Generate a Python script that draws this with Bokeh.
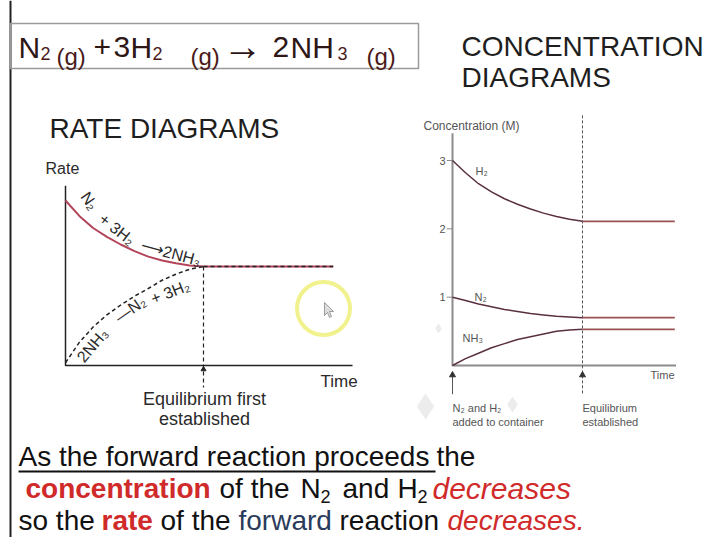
from bokeh.plotting import figure
from bokeh.models import Range1d
from bokeh.core.properties import value
from bokeh.embed import file_html
from bokeh.resources import INLINE

# ---------------- data ----------------
# Rate diagram (arbitrary time units, equilibrium first established at t = 5)
rate_time = [0, 0.5, 1, 1.5, 2, 2.5, 3, 3.5, 4, 4.5, 5]
forward_rate = [3.00, 2.72, 2.50, 2.34, 2.20, 2.08, 1.98, 1.91, 1.86, 1.82, 1.80]
reverse_rate = [0.05, 0.42, 0.70, 0.92, 1.10, 1.26, 1.40, 1.55, 1.66, 1.75, 1.80]
rate_eq_time = 5
rate_end_time = 9.7
rate_axis_time = 10.4
rate_axis_top = 3.27

# Concentration diagram (M), equilibrium established at t = 5
conc_time = [0, 0.5, 1, 1.5, 2, 2.5, 3, 3.5, 4, 4.5, 5]
h2_conc = [3.00, 2.82, 2.66, 2.54, 2.44, 2.36, 2.29, 2.23, 2.18, 2.14, 2.11]
n2_conc = [1.00, 0.95, 0.90, 0.86, 0.82, 0.79, 0.76, 0.74, 0.72, 0.71, 0.70]
nh3_conc = [0.00, 0.10, 0.18, 0.26, 0.32, 0.38, 0.42, 0.46, 0.50, 0.52, 0.53]
conc_eq_time = 5
conc_end_time = 8.55
conc_axis_time = 8.6
conc_axis_top = 3.4
conc_ticks = [1, 2, 3]
conc_tick_labels = ["1", "2", "3"]

FONT = value("Liberation Sans")

# ---------------- canvas (page coordinates, y downwards) ----------------
W, H = 709, 537
p = figure(width=W, height=H, x_range=Range1d(0, W), y_range=Range1d(H, 0),
           output_backend="svg", toolbar_location=None, min_border=0,
           x_axis_location=None, y_axis_location=None)
p.grid.visible = False
p.outline_line_color = None
p.background_fill_color = "white"
p.border_fill_color = "white"


def span(v0, p0, v1, p1, lo, hi):
    k = (v1 - v0) / (p1 - p0)
    return Range1d(start=v0 + (lo - p0) * k, end=v0 + (hi - p0) * k)


p.extra_x_ranges = {"rt": span(0, 65, 5, 203, 0, W),
                    "ct": span(0, 452, 5, 582, 0, W)}
p.extra_y_ranges = {"rr": span(0, 365, 3, 200, H, 0),
                    "cc": span(0, 365, 3, 160, H, 0)}
R = dict(x_range_name="rt", y_range_name="rr")
C = dict(x_range_name="ct", y_range_name="cc")


def label(x, y, s, size, color="#222222", style="normal", align="left",
          angle=0.0, **kw):
    p.text(x=[x], y=[y], text=[s], text_font=FONT, text_font_size=f"{size}px",
           text_color=color, text_font_style=style, text_align=align,
           text_baseline="middle", angle=angle, **kw)


# slide edge
p.segment(x0=[10], y0=[0], x1=[10], y1=[H], line_color="#222222", line_width=2)

# ---------------- title equation ----------------
p.quad(left=[10], right=[418], top=[23], bottom=[68], fill_color=None,
       line_color="#9a9a9a", line_width=1.5)
EQ = "#2e1616"
SUB = "#4a1a1a"
for x, s in [(18, "N"), (93, "+"), (113, "3"), (130, "H"), (272, "2"), (290, "NH")]:
    label(x, 46.5, s, 30, EQ)
label(222, 45.5, "\u2192", 40, EQ)
for x, s in [(40, "2"), (152, "2"), (337, "3")]:
    label(x, 52.5, s, 18, SUB)
for x, s in [(56, "(g)"), (190, "(g)"), (366, "(g)")]:
    label(x, 56, s, 24, SUB)

label(461, 46, "CONCENTRATION", 28, "#1e1e1e")
label(461, 77, "DIAGRAMS", 28, "#1e1e1e")
label(49, 128, "RATE DIAGRAMS", 28, "#1e1e1e")

# ---------------- rate diagram ----------------
p.line([0, 0, rate_axis_time], [rate_axis_top, 0, 0], line_color="#222222", line_width=1.5, **R)
p.line(rate_time, forward_rate, line_color="#b2455a", line_width=2, **R)
p.line([rate_eq_time, rate_end_time], [forward_rate[-1], forward_rate[-1]],
       line_color="#b2455a", line_width=2, **R)
p.line(rate_time, reverse_rate, line_color="#222222", line_width=1.5, line_dash="4 3", **R)
p.line([rate_eq_time, rate_end_time], [reverse_rate[-1], reverse_rate[-1]],
       line_color="#222222", line_width=1.3, line_dash="4 3", **R)
p.line([rate_eq_time, rate_eq_time], [reverse_rate[-1], -0.4], line_color="#222222",
       line_width=1.2, line_dash="4 3", **R)
p.scatter([rate_eq_time], [-0.07], marker="triangle", size=5, color="#222222", **R)

label(45, 167.5, "Rate", 16, "#2a2a2a")
label(320, 381, "Time", 17, "#2a2a2a")
label(204, 398, "Equilibrium first", 18, "#2a2a2a", align="center")
label(204, 418.5, "established", 18, "#2a2a2a", align="center")

LBL = "#2a2a2a"
label(84, 193, "N\u2082", 16, LBL, angle=-0.96)
label(100.5, 216.5, "+ 3H\u2082", 16, LBL, angle=-0.66)
label(140.5, 244.5, "\u27f62NH\u2083", 16, LBL, angle=-0.26)
label(79.5, 359.5, "2NH\u2083", 16, LBL, angle=0.87)
label(116, 318.5, "\u2014N\u2082", 16, LBL, angle=0.61)
label(151, 299, "+ 3H\u2082", 16, LBL, angle=0.38)

# screen-recording cursor highlight
p.scatter([323], [308], marker="circle", size=53, fill_color=None,
          line_color="#eef07a", line_width=4, line_alpha=0.85)
p.patch([324, 324, 327, 329, 331, 329, 333], [302, 315, 312, 317, 316, 311, 311],
        fill_color="#dddddd", line_color="#888888", line_width=0.8)

# ---------------- concentration diagram ----------------
p.scatter([425, 512, 438], [406, 404, 328], marker="diamond", size=[26, 16, 10],
          color="#ececec", line_color=None)

p.line([0, 0, conc_axis_time], [conc_axis_top, 0, 0], line_color="#8c8c8c", line_width=2, **C)
for t in conc_ticks:
    p.line([-0.22, 0], [t, t], line_color="#8c8c8c", line_width=1, **C)
p.text(x=[0] * 3, y=conc_ticks, text=conc_tick_labels, x_offset=-7, text_font=FONT,
       text_font_size="11px", text_color="#555555", text_align="right",
       text_baseline="middle", **C)
p.line([conc_eq_time, conc_eq_time], [3.66, -0.42], line_color="#555555", line_width=1,
       line_dash="3 2", **C)
p.line([0, 0], [-0.42, -0.1], line_color="#555555", line_width=1, **C)
p.scatter([0, conc_eq_time], [-0.14, -0.14], marker="triangle", size=6, color="#333333", **C)

CUR = "#5a3040"
PLT = "#9a5252"
for series in (h2_conc, n2_conc, nh3_conc):
    p.line(conc_time, series, line_color=CUR, line_width=1.5, **C)
    p.line([conc_eq_time, conc_end_time], [series[-1], series[-1]], line_color=PLT,
           line_width=1.8, **C)

SM = "#555555"
label(423, 125, "Concentration (M)", 12, SM)
label(475, 170, "H\u2082", 11, SM)
label(474, 296.5, "N\u2082", 11, SM)
label(462, 337, "NH\u2083", 11, SM)
label(650, 374, "Time", 11, SM)
label(452, 407, "N\u2082 and H\u2082", 11, SM)
label(452, 421, "added to container", 11, SM)
label(582, 407, "Equilibrium", 11, SM)
label(582, 421, "established", 11, SM)

# ---------------- bottom text ----------------
BLK = "#111111"
RED = "#d02a2a"
label(18, 456, "As the forward reaction proceeds", 28, BLK)
p.segment(x0=[18], y0=[471], x1=[435], y1=[471], line_color=BLK, line_width=2)
label(436, 456, " the", 28, BLK)

label(25, 488, "concentration", 28, RED, style="bold")
label(219, 488, "of the", 28, BLK)
label(300, 488, "N", 28, BLK)
label(320, 496, "2", 18, BLK)
label(342, 488, "and", 28, BLK)
label(397, 488, "H", 28, BLK)
label(417, 496, "2", 18, BLK)
label(432, 488, "decreases", 30, RED, style="italic")

label(18, 520, "so the", 28, BLK)
label(101, 520, "rate", 28, RED, style="bold")
label(160, 520, "of the", 28, BLK)
label(238, 520, "forward", 28, "#2a3b5c")
label(339, 520, "reaction", 28, BLK)
label(447, 520, "decreases.", 28, RED, style="italic")

open("out.html", "w").write(file_html(p, INLINE))
